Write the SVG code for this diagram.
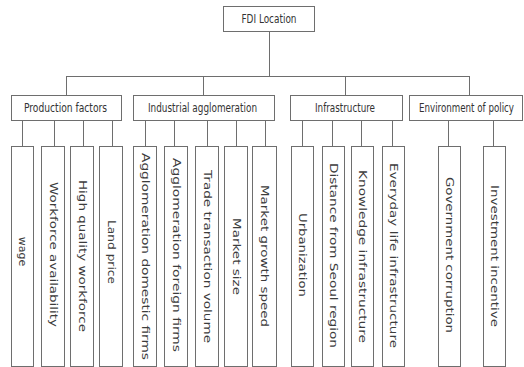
<svg xmlns="http://www.w3.org/2000/svg" width="524" height="367" viewBox="0 0 524 367">
<style>
.box{fill:#fff;stroke:#6e6e6e;stroke-width:1}
.ln{fill:none;stroke:#6e6e6e;stroke-width:1}
.hd{font-family:"Liberation Sans Narrow","DejaVu Sans Condensed","Roboto",sans-serif;font-size:12px;fill:#333;text-anchor:middle;dominant-baseline:central}
.lf{font-family:"DejaVu Sans","Liberation Sans",sans-serif;font-size:11px;fill:#3c3c3c;text-anchor:middle;dominant-baseline:central}
</style>
<rect width="524" height="367" fill="#fff"/>
<g id="connectors">
<path class="ln" d="M269.5 31V76.5M66.5 76.5H469.5M66.5 76V95M203.5 76V95M345.5 76V95M469.5 76V95"/>
<path class="ln" d="M22.5 120V146M54.5 120V146M83.5 120V146M112.5 120V146"/>
<path class="ln" d="M145.5 120V146M174.5 120V146M207.5 120V146M236.5 120V146M265.5 120V146"/>
<path class="ln" d="M302.5 120V146M332.5 120V146M361.5 120V146M392.5 120V146"/>
<path class="ln" d="M448.5 120V146M493.5 120V146"/>
</g>
<g id="root"><rect class="box" x="223.5" y="6.5" width="91" height="25"/><text class="hd" x="269" y="19" textLength="55" lengthAdjust="spacingAndGlyphs">FDI Location</text></g>
<g id="cat-production"><rect class="box" x="11.5" y="95.5" width="110" height="25"/><text class="hd" x="65.5" y="108" textLength="83" lengthAdjust="spacingAndGlyphs">Production factors</text></g>
<g id="cat-industrial"><rect class="box" x="133.5" y="95.5" width="141" height="25"/><text class="hd" x="202.5" y="108" textLength="109" lengthAdjust="spacingAndGlyphs">Industrial agglomeration</text></g>
<g id="cat-infra"><rect class="box" x="290.5" y="95.5" width="112" height="25"/><text class="hd" x="345" y="108" textLength="60" lengthAdjust="spacingAndGlyphs">Infrastructure</text></g>
<g id="cat-policy"><rect class="box" x="409.5" y="95.5" width="113" height="25"/><text class="hd" x="466.5" y="108" textLength="95" lengthAdjust="spacingAndGlyphs">Environment of policy</text></g>

<g id="leaf-wage"><rect class="box" x="11.5" y="146.5" width="22" height="220"/><text class="lf" transform="translate(22.5,251.5) rotate(90)">wage</text></g>
<g id="leaf-workforce"><rect class="box" x="41.5" y="146.5" width="23" height="220"/><text class="lf" transform="translate(53,254.5) rotate(90)" textLength="145" lengthAdjust="spacingAndGlyphs">Workforce availability</text></g>
<g id="leaf-hq"><rect class="box" x="70.5" y="146.5" width="23" height="220"/><text class="lf" transform="translate(82,256) rotate(90)" textLength="152" lengthAdjust="spacingAndGlyphs" fill="#33365a">High quality workforce</text></g>
<g id="leaf-land"><rect class="box" x="99.5" y="146.5" width="23" height="220"/><text class="lf" transform="translate(111,252) rotate(90)" textLength="64" lengthAdjust="spacingAndGlyphs" fill="#7a3535">Land price</text></g>

<g id="leaf-aggdom"><rect class="box" x="133.5" y="146.5" width="23" height="220"/><text class="lf" transform="translate(145,256.5) rotate(90)" textLength="207" lengthAdjust="spacingAndGlyphs">Agglomeration domestic firms</text></g>
<g id="leaf-aggfor"><rect class="box" x="164.5" y="146.5" width="23" height="220"/><text class="lf" transform="translate(176,255) rotate(90)" textLength="194" lengthAdjust="spacingAndGlyphs">Agglomeration foreign firms</text></g>
<g id="leaf-trade"><rect class="box" x="195.5" y="146.5" width="23" height="220"/><text class="lf" transform="translate(207,256.5) rotate(90)" textLength="173" lengthAdjust="spacingAndGlyphs" fill="#3a3350">Trade transaction volume</text></g>
<g id="leaf-msize"><rect class="box" x="224.5" y="146.5" width="23" height="220"/><text class="lf" transform="translate(236,256.5) rotate(90)" textLength="77" lengthAdjust="spacingAndGlyphs">Market size</text></g>
<g id="leaf-mgrowth"><rect class="box" x="252.5" y="146.5" width="24" height="220"/><text class="lf" transform="translate(264.5,256) rotate(90)" textLength="142" lengthAdjust="spacingAndGlyphs">Market growth speed</text></g>

<g id="leaf-urban"><rect class="box" x="291.5" y="146.5" width="22" height="220"/><text class="lf" transform="translate(302.5,255) rotate(90)" textLength="84" lengthAdjust="spacingAndGlyphs">Urbanization</text></g>
<g id="leaf-seoul"><rect class="box" x="322.5" y="146.5" width="22" height="220"/><text class="lf" transform="translate(333.5,255.5) rotate(90)" textLength="185" lengthAdjust="spacingAndGlyphs">Distance from Seoul region</text></g>
<g id="leaf-know"><rect class="box" x="351.5" y="146.5" width="22" height="220"/><text class="lf" transform="translate(362.5,256.5) rotate(90)" textLength="173" lengthAdjust="spacingAndGlyphs" fill="#33365a">Knowledge infrastructure</text></g>
<g id="leaf-everyday"><rect class="box" x="382.5" y="146.5" width="22" height="220"/><text class="lf" transform="translate(393.5,255.5) rotate(90)" textLength="185" lengthAdjust="spacingAndGlyphs" fill="#7a4a25">Everyday life infrastructure</text></g>

<g id="leaf-gov"><rect class="box" x="438.5" y="146.5" width="22" height="220"/><text class="lf" transform="translate(449.5,255) rotate(90)" textLength="156" lengthAdjust="spacingAndGlyphs">Government corruption</text></g>
<g id="leaf-invest"><rect class="box" x="483.5" y="146.5" width="22" height="220"/><text class="lf" transform="translate(494.5,256) rotate(90)" textLength="142" lengthAdjust="spacingAndGlyphs">Investment incentive</text></g>
</svg>
